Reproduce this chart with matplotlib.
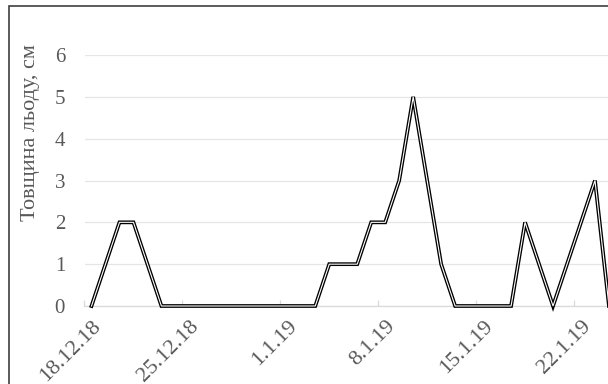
import pandas as pd
import matplotlib
matplotlib.use('Agg')
import matplotlib.pyplot as plt
import matplotlib.dates as mdates
from matplotlib.patches import Rectangle

# дати вимірювань і товщина льоду (см)
dates = ['2018-12-18', '2018-12-20', '2018-12-21', '2018-12-23', '2019-01-03',
         '2019-01-04', '2019-01-06', '2019-01-07', '2019-01-08', '2019-01-09',
         '2019-01-10', '2019-01-11', '2019-01-12', '2019-01-13', '2019-01-17',
         '2019-01-18', '2019-01-20', '2019-01-23', '2019-01-24']
ice = [0, 2, 2, 0, 0, 1, 1, 2, 2, 3, 5, 3, 1, 0, 0, 2, 0, 3, 0]

tick_dates = ['2018-12-18', '2018-12-25', '2019-01-01', '2019-01-08', '2019-01-15', '2019-01-22']
tick_labels = ['18.12.18', '25.12.18', '1.1.19', '8.1.19', '15.1.19', '22.1.19']
y_ticks = [0, 1, 2, 3, 4, 5, 6]

plt.rcParams['font.family'] = ['Liberation Serif', 'DejaVu Serif']
grey = '#595959'

x = mdates.date2num(pd.to_datetime(dates))
xt = mdates.date2num(pd.to_datetime(tick_dates))

fig = plt.figure(figsize=(6.08, 3.84), dpi=100)
ax = fig.add_axes([84.5 / 608, 1 - 306 / 384, 1 - 84.5 / 608, (306 - 55) / 384])

# подвійна лінія: чорний контур і біла середина
ax.plot(x, ice, color='black', lw=2.7, solid_joinstyle='miter', zorder=3, clip_on=False)
ax.plot(x, ice, color='white', lw=0.8, solid_joinstyle='miter', zorder=4, clip_on=False)

ax.set_ylim(0, 6)
ax.set_yticks(y_ticks)
ax.set_xlim(xt[0] - 0.5, xt[0] - 0.5 + (608 - 84.5) / 13.986)
ax.set_xticks(xt)
ax.set_xticklabels(tick_labels, rotation=45, ha='right', va='top', rotation_mode='anchor')
ax.set_xticks([t - 0.5 for t in xt], minor=True)

ax.grid(axis='y', color='#e6e6e6', lw=0.9)
ax.set_axisbelow(True)
for s in ['top', 'right', 'left']:
    ax.spines[s].set_visible(False)
ax.spines['bottom'].set_color('#d9d9d9')
ax.spines['bottom'].set_linewidth(0.9)

ax.tick_params(axis='y', length=0, pad=14, labelsize=15, labelcolor=grey)
ax.tick_params(axis='x', which='major', length=0, pad=8, labelsize=16, labelcolor=grey)
ax.tick_params(axis='x', which='minor', direction='in', length=4, color='#d9d9d9', width=0.9)

ax.set_ylabel('Товщина льоду, см', fontsize=16, color=grey)
ax.yaxis.set_label_coords(-0.085, 0.69)

# рамка діаграми
fig.patches.append(Rectangle((9 / 608, -0.1), 2, 1.1 - 6 / 384, transform=fig.transFigure,
                             fill=False, edgecolor='#404040', lw=1.2))

fig.savefig('out.png', dpi=100)
